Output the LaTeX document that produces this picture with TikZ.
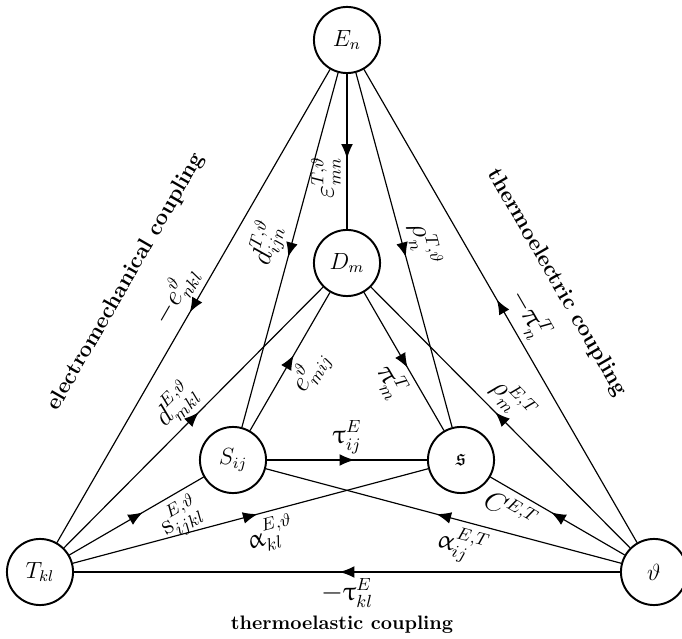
\documentclass[tikz,border=0pt]{standalone}
\usepackage{amssymb}
\usepackage[Euler]{upgreek}
\usepackage{tikz}
\usetikzlibrary{arrows.meta, decorations.markings}

\begin{document}
\begin{tikzpicture}
  [
    Var/.style={circle, draw=black, line width=1pt, minimum size=1.19cm, inner sep=0pt,
      font=\fontsize{12}{14}\selectfont},
    Link/.style={draw, semithick, postaction={decorate},
      decoration={markings, mark=at position 0.5 with {\arrow[xshift=3.75pt]{Latex[length=7.5pt, width=6pt]}}}},
    Lbl/.style={inner sep=3pt, font=\fontsize{13.5}{16}\selectfont},
    Title/.style={font=\fontsize{11.4}{14}\selectfont\bfseries}
  ]
  \useasboundingbox (-0.72, -1.188) rectangle (11.556, 10.296);
  % Nodes
  \node[Var] (T) at(0, 0) {$T_{kl}$};
  \node[Var] (th) at(11.052, 0) {$\vartheta$};
  \node[Var] (E) at(5.526, 9.576) {$E_n$};
  \node[Var] (S) at(3.474, 2.016) {$S_{ij}$};
  \node[Var] (s) at(7.578, 2.016) {$\mathfrak{s}$};
  \node[Var] (D) at(5.526, 5.562) {$D_m$};
  % Titles
  \node[Title, rotate=60] (emc) at(1.548, 5.22) {electromechanical coupling};
  \node[Title, rotate=-60] (tec) at(9.306, 5.202) {thermoelectric coupling};
  \node[Title, font=\bfseries] (tlc) at(5.436, -0.954) {thermoelastic coupling};
  % Lines
  \path [Link] (E) -- node[Lbl, sloped, above, pos=0.5] {$-e^{\vartheta}_{nkl}$} (T);
  \path [Link] (E) -- node[Lbl, sloped, above, pos=0.5] {$d^{T,\vartheta}_{ijn}$} (S);
  \path [Link] (E) -- node[Lbl, rotate=90, above, pos=0.67] {$\varepsilon^{T,\vartheta}_{mn}$} (D);
  \path [Link] (E) -- node[Lbl, sloped, above, pos=0.5] {$\rho^{T,\vartheta}_{n}$} (s);
  \path [Link] (th) -- node[Lbl, sloped, above, pos=0.46] {$-\uppi^{T}_{n}$} (E);
  \path [Link] (T) -- node[Lbl, sloped, above, pos=0.49] {$d^{E,\vartheta}_{mkl}$} (D);
  \path [Link] (T) -- node[Lbl, sloped, below, pos=0.74] {$\mathrm{s}^{E,\vartheta}_{ijkl}$} (S);
  \path [Link] (T) -- node[Lbl, sloped, below, pos=0.54] {$\upalpha^{E,\vartheta}_{kl}$} (s);
  \path [Link] (th) -- node[Lbl, below, pos=0.5] {$-\uptau^{E}_{kl}$} (T);
  \path [Link] (th) -- node[Lbl, sloped, below, pos=0.43] {$\upalpha^{E,T}_{ij}$} (S);
  \path [Link] (th) -- node[Lbl, sloped, below, pos=0.78] {$C^{E,T}$} (s);
  \path [Link] (th) -- node[Lbl, sloped, above, pos=0.51] {$\rho^{E,T}_{m}$} (D);
  \path [Link] (S) -- node[Lbl, sloped, below, pos=0.51] {$e^{\vartheta}_{mij}$} (D);
  \path [Link] (D) -- node[Lbl, sloped, below, pos=0.57] {$\uppi^{T}_{m}$} (s);
  \path [Link] (S) -- node[Lbl, above, pos=0.5] {$\uptau^{E}_{ij}$} (s);
\end{tikzpicture}
\end{document}
